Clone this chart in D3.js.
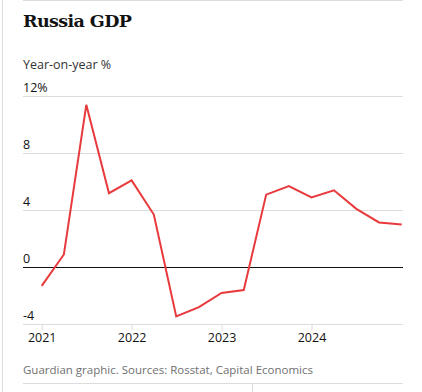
<!DOCTYPE html>
<html><head><meta charset="utf-8">
<script src="https://cdn.jsdelivr.net/npm/d3@7"></script>
<style>
body{margin:0;background:#fff;}
svg{display:block;}
</style></head>
<body>
<svg id="c" width="422" height="392"></svg>
<script>
const quarters = ["2021-01-01","2021-04-01","2021-07-01","2021-10-01","2022-01-01","2022-04-01","2022-07-01","2022-10-01","2023-01-01","2023-04-01","2023-07-01","2023-10-01","2024-01-01","2024-04-01","2024-07-01","2024-10-01","2025-01-01"];
const gdpGrowth = [-1.3, 0.9, 11.4, 5.2, 6.1, 3.7, -3.45, -2.8, -1.8, -1.6, 5.1, 5.7, 4.9, 5.4, 4.1, 3.15, 3.0];
const yTicks = [-4, 0, 4, 8, 12];
const yTickLabels = ["-4", "0", "4", "8", "12%"];
const xTicks = ["2021-01-01","2022-01-01","2023-01-01","2024-01-01"];
const xTickLabels = ["2021","2022","2023","2024"];

const parse = d3.utcParse("%Y-%m-%d");
const data = quarters.map((q,i)=>({date: parse(q), value: gdpGrowth[i]}));

const svg = d3.select("#c");
const sans = "'Open Sans', 'Noto Sans', sans-serif";

// frame
svg.append("line").attr("x1",2.5).attr("x2",2.5).attr("y1",0).attr("y2",392).attr("stroke","#dcdcdc");
svg.append("line").attr("x1",23).attr("x2",403).attr("y1",0.5).attr("y2",0.5).attr("stroke","#dcdcdc");
svg.append("line").attr("x1",23).attr("x2",403).attr("y1",383.5).attr("y2",383.5).attr("stroke","#dcdcdc");
svg.append("line").attr("x1",252.5).attr("x2",252.5).attr("y1",383.5).attr("y2",392).attr("stroke","#dcdcdc");

svg.append("text").attr("x",23).attr("y",27).text("Russia GDP")
  .attr("font-family","'DejaVu Serif', serif").attr("font-weight","bold").attr("font-size",17.5)
  .attr("letter-spacing","-0.6").attr("fill","#121212");
svg.append("text").attr("x",23).attr("y",68.5).text("Year-on-year %")
  .attr("font-family",sans).attr("font-size",12.5).attr("fill","#333");

const x = d3.scaleUtc().domain([parse("2021-01-01"), parse("2025-01-01")]).range([41.7, 401.7]);
const y = d3.scaleLinear().domain([-4, 12]).range([324.3, 96.3]);

const plotLeft = 23, plotRight = 403;

// y gridlines + labels
const yAxis = svg.append("g");
yTicks.forEach((t,i)=>{
  yAxis.append("line").attr("x1",plotLeft).attr("x2",plotRight)
    .attr("y1",Math.round(y(t))+0.5).attr("y2",Math.round(y(t))+0.5)
    .attr("stroke", t===0 ? "#121212" : "#dcdcdc").attr("stroke-width",1);
  yAxis.append("text").attr("x",plotLeft).attr("y",y(t)-4.5).text(yTickLabels[i])
    .attr("font-family",sans).attr("font-size",12.5).attr("fill","#121212");
});

// x axis
const xAxis = d3.axisBottom(x)
  .tickValues(xTicks.map(parse))
  .tickFormat((d,i)=>xTickLabels[i])
  .tickSize(6).tickSizeOuter(0);
const gx = svg.append("g").attr("transform",`translate(0,${Math.round(y(-4))+0.5})`).call(xAxis);
gx.select(".domain").remove();
gx.selectAll(".tick line").attr("stroke","#dcdcdc");
gx.selectAll(".tick text").attr("font-family",sans).attr("font-size",12.5).attr("fill","#121212").attr("dy","0.95em").attr("y",6);

// line
const line = d3.line().x(d=>x(d.date)).y(d=>y(d.value));
svg.append("path").datum(data).attr("d",line).attr("fill","none")
  .attr("stroke","#e8393c").attr("stroke-width",2).attr("stroke-linejoin","miter");

svg.append("text").attr("x",23).attr("y",374).text("Guardian graphic. Sources: Rosstat, Capital Economics")
  .attr("font-family",sans).attr("font-size",11.5).attr("fill","#707070");
</script>
</body></html>
